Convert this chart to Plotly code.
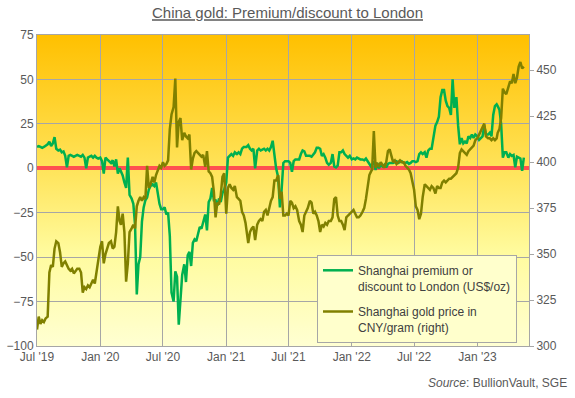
import base64
import plotly.graph_objects as go

# ---- data ----
months = [
    "2019-07", "2019-08", "2019-09", "2019-10", "2019-11", "2019-12",
    "2020-01", "2020-02", "2020-03", "2020-04", "2020-05", "2020-06",
    "2020-07", "2020-08", "2020-09", "2020-10", "2020-11", "2020-12",
    "2021-01", "2021-02", "2021-03", "2021-04", "2021-05", "2021-06",
    "2021-07", "2021-08", "2021-09", "2021-10", "2021-11", "2021-12",
    "2022-01", "2022-02", "2022-03", "2022-04", "2022-05", "2022-06",
    "2022-07", "2022-08", "2022-09", "2022-10", "2022-11", "2022-12",
    "2023-01", "2023-02", "2023-03", "2023-04", "2023-05",
]
days = ["01", "06", "11", "16", "21", "26"]
dates = [f"{m}-{d}" for m in months for d in days][:-2]

premium_usd_oz = [
    12, 12.5, 12, 11.5, 12, 12.5,
    13.5, 15, 12.5, 14, 17.5, 11,
    10, 10.5, 9, 9.5, 7, 0.5,
    7, 7.5, 7, 6.5, 7, 7.5,
    7, 6.5, 7.5, 6, 0, 6,
    6.5, 7, 6, 7, 6, 5.5,
    6, 4, -3, 6, 5, 4,
    3, 4.5, 1, 5, -3, 0,
    -2, -4, -8, -11, 6, -15,
    -17, -20, -32, -71, -54, -50,
    -30, -22, -18, -16.5, -12, -10,
    -9, -10, -8, -14, -20, -23,
    -23, -22, -26, -25, -38, -70,
    -75, -58, -61, -88, -76, -60,
    -54, -64, -49, -47, -55, -42,
    -40, -41, -37, -33, -34, -30,
    -26, -35, -19, -17, -11, -18,
    -18, -21, -17, -19, -14, -12,
    -8, 6, 7, 8, 7, 9,
    8, 9, 8, 11, 12, 12,
    12, 13, 11, 10, 11, 0,
    10, 11, 10, 10.5, 11, 10,
    11, 10, 12, 15.5, 6, 0,
    -5, -22, -12, 3, 4, 4,
    4, 3, -2, 4, 5, 5,
    5, 8, 10, 9.5, 7, 7,
    7, 6.5, 7.5, 9, 11.5, 11.5,
    11, 7, 8, 6, 3, 2,
    3, 8, 1, 0.5, 1.5, 9,
    9, 10, 8, 7, 6, 7,
    5, 5.5, 5, 6, 5.5, 5,
    5, 4.5, 5.5, 4, 3, 1,
    2, 4, -1, 3, 0, 2,
    1, 2, 0.5, 2.5, 3, 3,
    3, 3.5, 4, 3, 3.5, 4,
    3, 3, 3.5, 2.5, 3, 4,
    4, 3.5, 4, 8, 9, 8,
    9, 6, 10, 11, 11, 18,
    24, 26, 29, 40, 44, 44,
    38, 35, 34, 30, 50, 34,
    40, 24, 13.5, 17, 14, 15,
    14, 18, 17, 19, 17, 19,
    18, 16, 17, 18, 24, 19,
    19, 20, 18, 30, 35, 36,
    35, 33, 25, 6, 9, 9,
    6, 8, 7, 7.5, 0.5, 6.5,
    6, 5.5, -1.5, 6,
]

price_cny_gram = [
    309, 316, 312, 314, 313, 315,
    316, 340, 344, 343, 353, 357,
    356, 351, 343, 345, 346, 344,
    342, 341, 342, 339.5, 341, 342,
    342, 340, 329, 332, 331, 333,
    332, 334, 336, 334, 340, 345,
    354, 357, 345, 350, 353, 356,
    357, 353, 354, 362, 376, 368,
    366, 372, 362, 335, 345, 362,
    364, 366, 364, 376, 379, 381,
    379, 381, 380, 398, 386, 388,
    392, 389, 393, 396, 398, 397,
    400, 398, 399, 401, 418, 426,
    430, 445.5, 408, 422, 424, 412,
    416, 414, 413, 415, 396, 402,
    405, 406, 405, 404, 403, 404,
    397.5, 406, 395, 394, 392, 384,
    370, 378, 377, 382, 392, 394,
    372, 386, 388, 386, 385, 387,
    381, 380, 379, 373, 371, 367,
    362, 356, 362, 364, 365, 357.6,
    366, 368, 369, 368, 373, 374,
    371, 376, 379, 381, 390, 390,
    393, 380, 384, 371, 371, 372,
    371, 379, 378, 375, 376, 374,
    368, 366, 362, 371, 373, 375,
    379, 378, 372, 373, 371, 368,
    362, 366, 365, 367, 366, 368,
    368, 370, 380, 381, 371, 368,
    368, 366, 363, 370, 371, 372,
    373, 374, 372, 370, 370, 371,
    373, 375, 380, 386, 393, 395,
    396, 417, 397, 399, 398, 400,
    398, 397, 400, 406, 407, 404,
    400, 401, 399, 400, 401, 400,
    400, 398, 397, 396, 394, 390,
    385, 376, 374, 369, 372, 381,
    388, 387, 386, 385, 387, 386,
    383, 387, 386, 386, 389, 390,
    389, 390, 391, 391, 392, 393,
    394, 397, 405, 407, 406, 405,
    404, 406, 407, 408, 409, 412,
    413, 415, 417, 419, 421, 414,
    413, 413, 412, 413, 412, 413,
    416, 418, 424, 440, 438, 437,
    441, 444, 443, 448, 443, 446,
    452, 454.5, 451, 452,
]

x_tick_dates = ["2019-07-01", "2020-01-01", "2020-07-01", "2021-01-01",
                "2021-07-01", "2022-01-01", "2022-07-01", "2023-01-01"]
x_tick_labels = ["Jul '19", "Jan '20", "Jul '20", "Jan '21",
                 "Jul '21", "Jan '22", "Jul '22", "Jan '23"]
left_ticks = [75, 50, 25, 0, -25, -50, -75, -100]
right_ticks = [300, 325, 350, 375, 400, 425, 450]

# ---- styling ----
FONT = 'Arial, "Liberation Sans", sans-serif'
GRID = "#A6A6A6"
TXT = "#595959"

svg = (
    '<svg xmlns="http://www.w3.org/2000/svg" width="10" height="100" '
    'preserveAspectRatio="none">'
    '<defs><linearGradient id="g" x1="0" y1="0" x2="0" y2="1">'
    '<stop offset="0" stop-color="#FFC000"/>'
    '<stop offset="0.45" stop-color="#FFE55E"/>'
    '<stop offset="0.7" stop-color="#FFFB9E"/>'
    '<stop offset="1" stop-color="#FFFFD2"/>'
    '</linearGradient></defs>'
    '<rect x="0" y="0" width="10" height="100" fill="url(#g)"/></svg>'
)
bg_uri = "data:image/svg+xml;base64," + base64.b64encode(svg.encode()).decode()

fig = go.Figure()
fig.add_trace(go.Scatter(
    x=dates, y=premium_usd_oz, mode="lines", legendgroup="a",
    name="Shanghai premium or<br>discount to London (US$/oz)",
    line=dict(color="#00B050", width=2.5),
))
fig.add_trace(go.Scatter(
    x=dates, y=price_cny_gram, mode="lines", yaxis="y2", legendgroup="b",
    name="Shanghai gold price in<br>CNY/gram (right)",
    line=dict(color="#808000", width=2.5),
))

fig.update_layout(
    width=575, height=398,
    margin=dict(l=37, r=46, t=35, b=52, autoexpand=False),
    paper_bgcolor="white", plot_bgcolor="rgba(0,0,0,0)",
    font=dict(family=FONT, size=12, color=TXT),
    title=dict(
        text="<u>China gold: Premium/discount to London</u>",
        x=0.5, xref="container", xanchor="center",
        y=1 - 13 / 398, yref="container", yanchor="middle",
        font=dict(size=15, color=TXT, family=FONT),
    ),
    xaxis=dict(
        type="date", range=["2019-07-01", "2023-05-31"],
        tickmode="array", tickvals=x_tick_dates, ticktext=x_tick_labels,
        showgrid=True, gridcolor=GRID, gridwidth=1,
        showline=True, linecolor=GRID, linewidth=1, mirror=True,
        ticks="", zeroline=False, tickfont=dict(size=12, color=TXT),
    ),
    yaxis=dict(
        range=[-100, 75], tickmode="array", tickvals=left_ticks,
        showgrid=True, gridcolor=GRID, gridwidth=1,
        showline=True, linecolor=GRID, linewidth=1,
        zeroline=True, zerolinecolor="#FF5050", zerolinewidth=3.5,
        ticks="", tickfont=dict(size=12, color=TXT),
    ),
    yaxis2=dict(
        range=[300, 469.2], overlaying="y", side="right",
        tickmode="array", tickvals=right_ticks,
        showgrid=False, zeroline=False,
        showline=True, linecolor=GRID, linewidth=1,
        ticks="outside", ticklen=4, tickcolor=GRID,
        tickfont=dict(size=12, color=TXT),
    ),
    legend=dict(
        x=(317 - 37) / 492, y=(346 - 255) / 311, xanchor="left", yanchor="top",
        bgcolor="#FFFFCC", bordercolor=GRID, borderwidth=1,
        font=dict(size=12, color="#404040", family=FONT),
        valign="top", tracegroupgap=7,
    ),
    showlegend=True,
    images=[dict(
        source=bg_uri, xref="x domain", yref="y domain",
        x=0, y=1, sizex=1, sizey=1, xanchor="left", yanchor="top",
        sizing="stretch", layer="below",
    )],
    annotations=[dict(
        text="<i>Source</i>: BullionVault, SGE",
        xref="paper", yref="paper",
        x=(569 - 37) / 492, y=(346 - 383) / 311,
        xanchor="right", yanchor="middle", showarrow=False,
        font=dict(size=12, color=TXT, family=FONT),
    )],
)

fig.write_html(
    "out.html",
    config={"displayModeBar": False},
    post_script="document.body.style.margin='0';document.body.style.overflow='hidden';",
)
